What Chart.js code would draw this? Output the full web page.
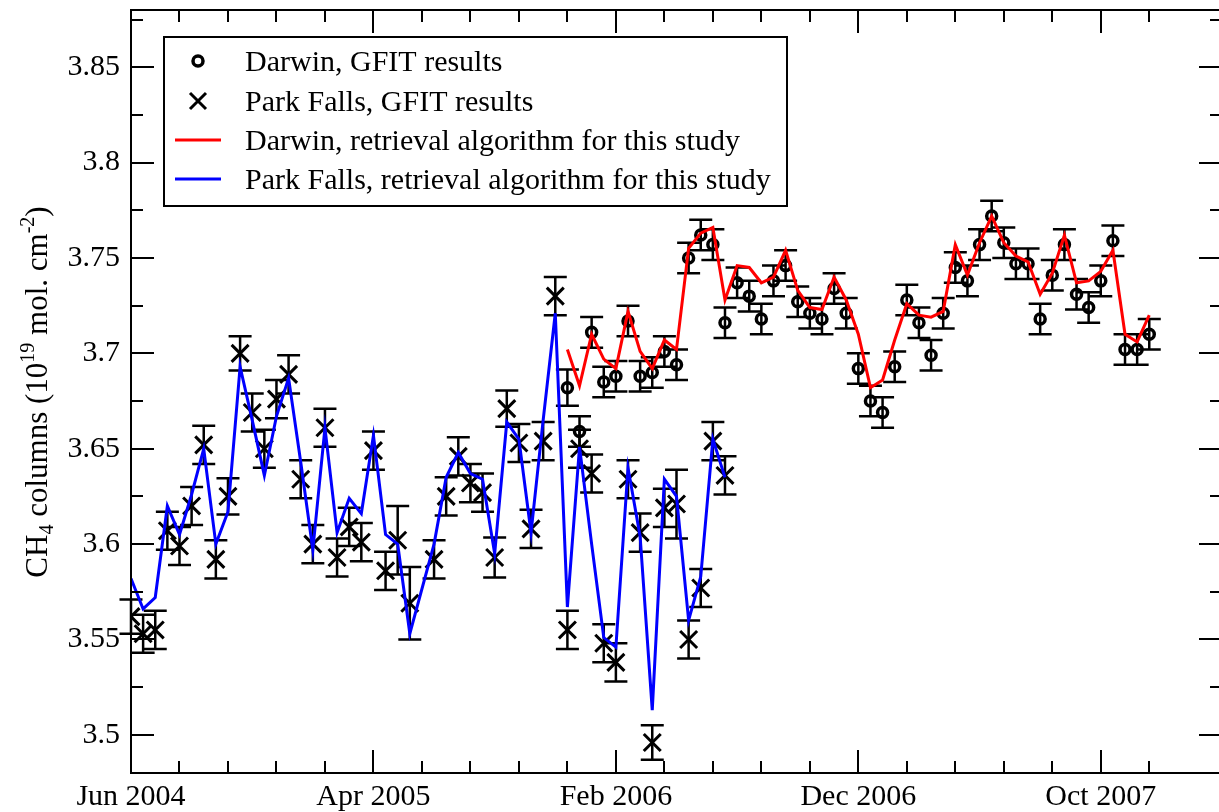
<!DOCTYPE html>
<html>
<head>
<meta charset="utf-8">
<title>CH4 columns - Darwin and Park Falls</title>
<script src="https://cdn.jsdelivr.net/npm/chart.js@4.4.1/dist/chart.umd.min.js"></script>
<style>
    html, body { margin: 0; padding: 0; background: #fff; overflow: hidden; }
    canvas { display: block; }
</style>
</head>
<body>
<canvas id="ch4Chart" width="1222" height="812"></canvas>
<script>
// x values are months counted from Jun 2004
const xTickMonths = [0, 10, 20, 30, 40];
const xTickLabels = ["Jun 2004", "Apr 2005", "Feb 2006", "Dec 2006", "Oct 2007"];
const yTickValues = [3.5, 3.55, 3.6, 3.65, 3.7, 3.75, 3.8, 3.85];
const yTickLabels = ["3.5", "3.55", "3.6", "3.65", "3.7", "3.75", "3.8", "3.85"];

const parkFallsMonths = [0, 0.5, 1, 1.5, 2, 2.5, 3, 3.5, 4, 4.5, 5, 5.5, 6, 6.5, 7, 7.5, 8, 8.5, 9, 9.5,
    10, 10.5, 11, 11.5, 12.5, 13, 13.5, 14, 14.5, 15, 15.5, 16, 16.5, 17, 17.5, 18, 18.5, 19, 19.5,
    20, 20.5, 21, 21.5, 22, 22.5, 23, 23.5, 24, 24.5];
const parkFallsGfit = [3.562, 3.553, 3.555, 3.607, 3.599, 3.620, 3.652, 3.592, 3.625, 3.700, 3.669, 3.650,
    3.676, 3.689, 3.634, 3.600, 3.661, 3.593, 3.609, 3.601, 3.649, 3.586, 3.602, 3.569, 3.592, 3.625,
    3.646, 3.632, 3.627, 3.593, 3.671, 3.653, 3.608, 3.654, 3.730, 3.555, 3.650, 3.637, 3.548, 3.538,
    3.634, 3.606, 3.496, 3.619, 3.621, 3.550, 3.577, 3.654, 3.636];
const parkFallsErr = [0.009, 0.010, 0.010, 0.010, 0.010, 0.010, 0.010, 0.010, 0.0095, 0.009, 0.010, 0.010,
    0.010, 0.010, 0.010, 0.010, 0.010, 0.010, 0.010, 0.010, 0.010, 0.010, 0.018, 0.019, 0.010, 0.010,
    0.010, 0.010, 0.010, 0.0105, 0.0095, 0.010, 0.010, 0.010, 0.010, 0.010, 0.010, 0.010, 0.010, 0.010,
    0.010, 0.010, 0.009, 0.010, 0.018, 0.010, 0.010, 0.010, 0.010];
const parkFallsRetrieval = [3.582, 3.566, 3.572, 3.620, 3.605, 3.626, 3.650, 3.600, 3.617, 3.693, 3.665, 3.636,
    3.667, 3.687, 3.643, 3.597, 3.661, 3.606, 3.624, 3.616, 3.657, 3.605, 3.600, 3.553, 3.600, 3.635,
    3.648, 3.637, 3.634, 3.595, 3.664, 3.655, 3.606, 3.665, 3.721, 3.567, 3.651, 3.600, 3.551, 3.546,
    3.640, 3.604, 3.513, 3.634, 3.625, 3.560, 3.583, 3.655, 3.635];

const darwinMonths = [18, 18.5, 19, 19.5, 20, 20.5, 21, 21.5, 22, 22.5, 23, 23.5, 24, 24.5, 25, 25.5,
    26, 26.5, 27, 27.5, 28, 28.5, 29, 29.5, 30, 30.5, 31, 31.5, 32, 32.5, 33, 33.5, 34, 34.5, 35, 35.5,
    36, 36.5, 37, 37.5, 38, 38.5, 39, 39.5, 40, 40.5, 41, 41.5, 42];
const darwinGfit = [3.682, 3.659, 3.711, 3.685, 3.688, 3.717, 3.688, 3.690, 3.701, 3.694, 3.750, 3.762,
    3.757, 3.716, 3.737, 3.730, 3.718, 3.738, 3.746, 3.727, 3.721, 3.718, 3.734, 3.721, 3.692, 3.675,
    3.669, 3.693, 3.728, 3.716, 3.699, 3.721, 3.745, 3.738, 3.757, 3.772, 3.758, 3.747, 3.747, 3.718,
    3.741, 3.757, 3.731, 3.724, 3.738, 3.759, 3.702, 3.702, 3.710];
const darwinErr = [0.0095, 0.008, 0.008, 0.008, 0.008, 0.008, 0.008, 0.008, 0.008, 0.008, 0.008, 0.008,
    0.008, 0.008, 0.008, 0.008, 0.008, 0.008, 0.008, 0.008, 0.008, 0.008, 0.008, 0.008, 0.008, 0.008,
    0.008, 0.008, 0.008, 0.008, 0.008, 0.008, 0.008, 0.008, 0.008, 0.008, 0.008, 0.008, 0.008, 0.008,
    0.008, 0.008, 0.008, 0.008, 0.008, 0.008, 0.008, 0.008, 0.008];
const darwinRetrieval = [3.702, 3.683, 3.710, 3.697, 3.692, 3.722, 3.701, 3.692, 3.707, 3.702, 3.755, 3.763,
    3.766, 3.728, 3.746, 3.745, 3.737, 3.740, 3.754, 3.733, 3.724, 3.723, 3.740, 3.728, 3.710, 3.682,
    3.686, 3.707, 3.726, 3.720, 3.719, 3.722, 3.757, 3.741, 3.758, 3.772, 3.758, 3.751, 3.748, 3.731,
    3.742, 3.762, 3.737, 3.738, 3.743, 3.754, 3.710, 3.706, 3.720];

const FONT = "'Liberation Serif', 'Times New Roman', serif";

function puntos(meses, valores) {
    return meses.map((m, i) => ({ x: m, y: valores[i] }));
}

// the plot frame has to sit at fixed pixels, so drop the padding Chart.js adds for labels
function fixPadding(s) {
    s.paddingLeft = 0;
    s.paddingRight = 0;
    s.paddingTop = 0;
    s.paddingBottom = 0;
}

function drawErrorBars(chart, meses, valores, errores) {
    const { ctx, scales: { x, y } } = chart;
    ctx.save();
    ctx.strokeStyle = "#000";
    ctx.lineWidth = 2.5;
    ctx.beginPath();
    meses.forEach((m, i) => {
        const px = x.getPixelForValue(m);
        const top = y.getPixelForValue(valores[i] + errores[i]);
        const bot = y.getPixelForValue(valores[i] - errores[i]);
        ctx.moveTo(px, top); ctx.lineTo(px, bot);
        ctx.moveTo(px - 11.5, top); ctx.lineTo(px + 11.5, top);
        ctx.moveTo(px - 11.5, bot); ctx.lineTo(px + 11.5, bot);
    });
    ctx.stroke();
    ctx.restore();
}

function drawFrame(chart) {
    const { ctx, chartArea: a, scales: { x, y } } = chart;
    ctx.save();
    ctx.strokeStyle = "#000";
    ctx.lineWidth = 2;
    ctx.strokeRect(a.left, a.top, a.right - a.left, a.bottom - a.top);
    ctx.beginPath();
    // ticks point inwards on all four sides, minor every 2 months
    for (let m = 0; m <= 42; m += 2) {
        const px = Math.round(x.getPixelForValue(m));
        const len = xTickMonths.includes(m) ? 23 : 12;
        ctx.moveTo(px, a.bottom); ctx.lineTo(px, a.bottom - len);
        ctx.moveTo(px, a.top); ctx.lineTo(px, a.top + len);
    }
    for (let k = 0; k <= 15; k++) {
        const py = Math.round(y.getPixelForValue(3.5 + k * 0.025));
        const len = k % 2 === 0 ? 23 : 12;
        ctx.moveTo(a.left, py); ctx.lineTo(a.left + len, py);
        ctx.moveTo(a.right, py); ctx.lineTo(a.right - len, py);
    }
    ctx.stroke();
    ctx.restore();
}

function drawLegend(chart) {
    const ctx = chart.ctx;
    const ds = chart.data.datasets;
    const box = { left: 164, top: 37, right: 787, bottom: 206 };
    const filas = [61, 101, 140, 179];
    ctx.save();
    ctx.fillStyle = "#fff";
    ctx.fillRect(box.left, box.top, box.right - box.left, box.bottom - box.top);
    ctx.strokeStyle = "#000";
    ctx.lineWidth = 2;
    ctx.strokeRect(box.left, box.top, box.right - box.left, box.bottom - box.top);

    ds.forEach((d, i) => {
        const cy = filas[i];
        ctx.strokeStyle = d.borderColor;
        ctx.lineWidth = 3;
        ctx.beginPath();
        if (d.type === "line") {
            ctx.moveTo(175, cy); ctx.lineTo(221, cy);
        } else if (d.pointStyle === "circle") {
            ctx.lineWidth = 3.5;
            ctx.arc(198, cy, 5, 0, Math.PI * 2);
        } else {
            ctx.moveTo(190, cy - 8); ctx.lineTo(206, cy + 8);
            ctx.moveTo(206, cy - 8); ctx.lineTo(190, cy + 8);
        }
        ctx.stroke();
        ctx.fillStyle = "#000";
        ctx.font = "30px " + FONT;
        ctx.textBaseline = "alphabetic";
        ctx.fillText(d.label, 245, cy + 10);
    });
    ctx.restore();
}

function drawYTitle(chart) {
    const ctx = chart.ctx;
    const grande = "31px " + FONT;
    const chica = "20px " + FONT;
    const partes = [
        { t: "CH", f: grande, dy: 0 },
        { t: "4", f: chica, dy: 6 },
        { t: " columns (10", f: grande, dy: 0 },
        { t: "19", f: chica, dy: -13 },
        { t: " mol. cm", f: grande, dy: 0 },
        { t: "-2", f: chica, dy: -13 },
        { t: ")", f: grande, dy: 0 }
    ];
    ctx.save();
    let total = 0;
    partes.forEach(p => { ctx.font = p.f; p.w = ctx.measureText(p.t).width; total += p.w; });
    ctx.translate(47, 392);
    ctx.rotate(-Math.PI / 2);
    ctx.fillStyle = "#000";
    ctx.textBaseline = "alphabetic";
    let cx = -total / 2;
    partes.forEach(p => {
        ctx.font = p.f;
        ctx.fillText(p.t, cx, p.dy);
        cx += p.w;
    });
    ctx.restore();
}

const marcoPlugin = {
    id: "marco",
    beforeDraw(chart) {
        const ctx = chart.ctx;
        ctx.save();
        ctx.fillStyle = "#fff";
        ctx.fillRect(0, 0, chart.width, chart.height);
        ctx.restore();
    },
    beforeDatasetsDraw(chart) {
        drawErrorBars(chart, parkFallsMonths, parkFallsGfit, parkFallsErr);
        drawErrorBars(chart, darwinMonths, darwinGfit, darwinErr);
    },
    afterDraw(chart) {
        drawFrame(chart);
        drawLegend(chart);
        drawYTitle(chart);
    }
};

const tickFont = { family: FONT, size: 30 };

new Chart(document.getElementById("ch4Chart"), {
    type: "scatter",
    data: {
        datasets: [
            {
                type: "scatter",
                label: "Darwin, GFIT results",
                data: puntos(darwinMonths, darwinGfit),
                pointStyle: "circle",
                pointRadius: 5,
                pointBorderWidth: 3.5,
                pointBorderColor: "#000",
                pointBackgroundColor: "rgba(0,0,0,0)",
                borderColor: "#000",
                order: 1
            },
            {
                type: "scatter",
                label: "Park Falls, GFIT results",
                data: puntos(parkFallsMonths, parkFallsGfit),
                pointStyle: "crossRot",
                pointRadius: 12,
                pointBorderWidth: 3,
                pointBorderColor: "#000",
                pointBackgroundColor: "#000",
                borderColor: "#000",
                order: 1
            },
            {
                type: "line",
                label: "Darwin, retrieval algorithm for this study",
                data: puntos(darwinMonths, darwinRetrieval),
                borderColor: "#ff0000",
                borderWidth: 3,
                pointRadius: 0,
                tension: 0,
                fill: false,
                order: 0
            },
            {
                type: "line",
                label: "Park Falls, retrieval algorithm for this study",
                data: puntos(parkFallsMonths, parkFallsRetrieval),
                borderColor: "#0000ff",
                borderWidth: 3,
                pointRadius: 0,
                tension: 0,
                fill: false,
                order: 0
            }
        ]
    },
    options: {
        responsive: false,
        animation: false,
        events: [],
        layout: { autoPadding: false, padding: { top: 10, left: 0, right: 0, bottom: 0 } },
        plugins: {
            legend: { display: false },
            tooltip: { enabled: false }
        },
        scales: {
            x: {
                type: "linear",
                min: 0,
                max: 45,
                grid: { display: false, drawTicks: false },
                border: { display: false },
                afterBuildTicks: s => { s.ticks = xTickMonths.map(v => ({ value: v })); },
                afterFit: s => { s.height = 39; fixPadding(s); },
                ticks: {
                    autoSkip: false,
                    maxRotation: 0,
                    padding: 6,
                    color: "#000",
                    font: tickFont,
                    callback: (v, i) => xTickLabels[i]
                }
            },
            y: {
                type: "linear",
                min: 3.48,
                max: 3.88,
                grid: { display: false, drawTicks: false },
                border: { display: false },
                afterBuildTicks: s => { s.ticks = yTickValues.map(v => ({ value: v })); },
                afterFit: s => { s.width = 131; fixPadding(s); },
                ticks: {
                    padding: 11,
                    color: "#000",
                    font: tickFont,
                    callback: (v, i) => yTickLabels[i]
                }
            }
        }
    },
    plugins: [marcoPlugin]
});
</script>
</body>
</html>
